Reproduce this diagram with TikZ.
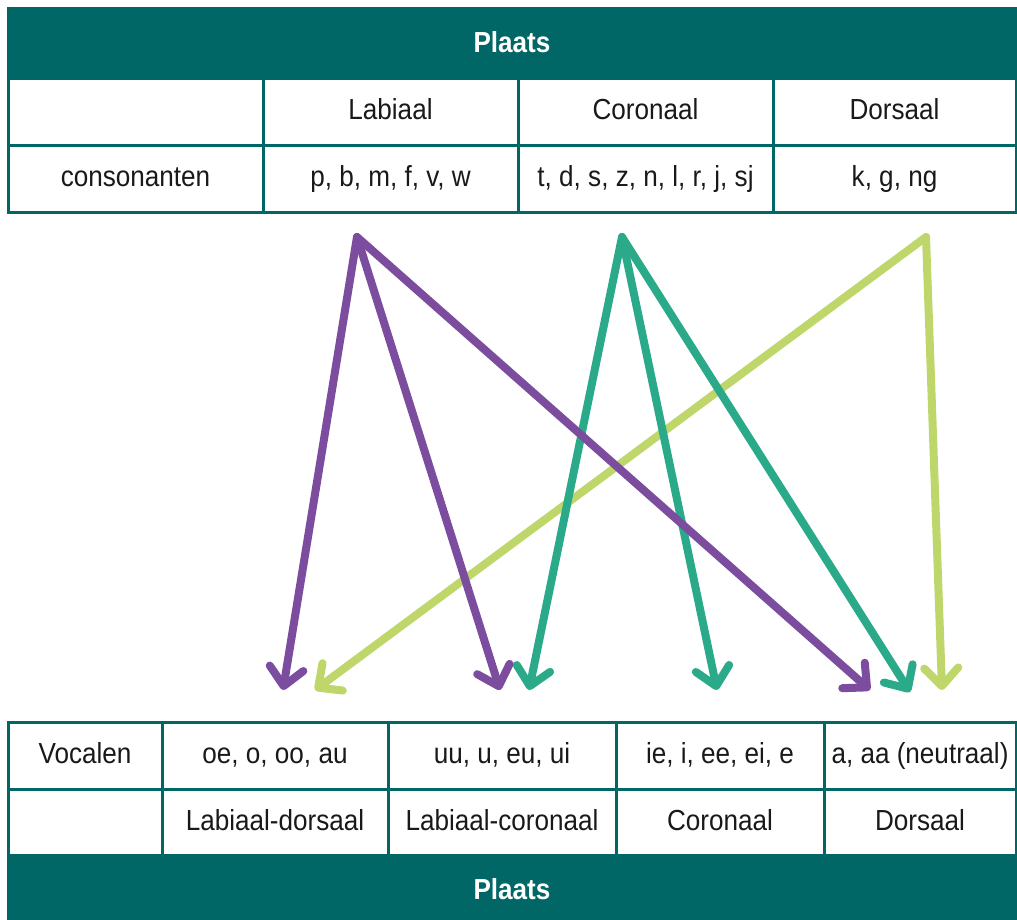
\documentclass[tikz,border=0pt]{standalone}
\usepackage{fontspec}
\setmainfont{Liberation Sans}[FakeStretch=0.9]
\usetikzlibrary{arrows.meta}
\definecolor{tablet}{RGB}{0,102,102}
\definecolor{txtc}{RGB}{25,25,25}
\definecolor{arrpurple}{RGB}{124,76,158}
\definecolor{arrteal}{RGB}{43,170,138}
\definecolor{arrlime}{RGB}{190,214,106}
\begin{document}
\begin{tikzpicture}[x=1pt,y=-1pt,
  cell/.style={draw=tablet, line width=3pt, anchor=north west, inner sep=0pt, outer sep=0pt,
    font=\fontsize{29}{33}\selectfont, text=txtc, text height=22pt, text depth=5.5pt},
  band/.style={cell, fill=tablet, text=white, font=\fontsize{29}{33}\selectfont\bfseries,
    text height=25pt},
  link/.style={line width=8pt, line cap=round, line join=round,
    -{Straight Barb[length=18pt,width=34pt,round]}},
]
\useasboundingbox (0,0) rectangle (1017,919);

% consonant table
\node[band, minimum width=1008pt, minimum height=70pt] (topband) at (8,8) {Plaats};
\node[cell, minimum width=255pt, minimum height=67pt] (h0) at (8,78) {};
\node[cell, minimum width=255pt, minimum height=67pt] (h1) at (263,78) {Labiaal};
\node[cell, minimum width=255pt, minimum height=67pt] (h2) at (518,78) {Coronaal};
\node[cell, minimum width=243pt, minimum height=67pt] (h3) at (773,78) {Dorsaal};
\node[cell, minimum width=255pt, minimum height=67pt] (c0) at (8,145) {consonanten};
\node[cell, minimum width=255pt, minimum height=67pt] (c1) at (263,145) {p, b, m, f, v, w};
\node[cell, minimum width=255pt, minimum height=67pt] (c2) at (518,145) {t, d, s, z, n, l, r, j, sj};
\node[cell, minimum width=243pt, minimum height=67pt] (c3) at (773,145) {k, g, ng};

% vowel table
\node[cell, minimum width=154pt, minimum height=67pt] (v0) at (8,722) {Vocalen};
\node[cell, minimum width=226pt, minimum height=67pt] (v1) at (162,722) {oe, o, oo, au};
\node[cell, minimum width=228pt, minimum height=67pt] (v2) at (388,722) {uu, u, eu, ui};
\node[cell, minimum width=208pt, minimum height=67pt] (v3) at (616,722) {ie, i, ee, ei, e};
\node[cell, minimum width=192pt, minimum height=67pt] (v4) at (824,722) {a, aa (neutraal)};
\node[cell, minimum width=154pt, minimum height=66pt] (p0) at (8,789) {};
\node[cell, minimum width=226pt, minimum height=66pt] (p1) at (162,789) {Labiaal-dorsaal};
\node[cell, minimum width=228pt, minimum height=66pt] (p2) at (388,789) {Labiaal-coronaal};
\node[cell, minimum width=208pt, minimum height=66pt] (p3) at (616,789) {Coronaal};
\node[cell, minimum width=192pt, minimum height=66pt] (p4) at (824,789) {Dorsaal};
\node[band, minimum width=1008pt, minimum height=70pt] (botband) at (8,855) {Plaats};

% arrow start and end points
\coordinate (sLab) at (357,237);
\coordinate (sCor) at (622,237);
\coordinate (sDor) at (926,237);
\coordinate (eLD1) at (283,690);
\coordinate (eLD2) at (315,690);
\coordinate (eLC1) at (500,690);
\coordinate (eLC2) at (529,690);
\coordinate (eCor) at (717,690);
\coordinate (eDor1) at (870,690);
\coordinate (eDor2) at (910,692);
\coordinate (eDor3) at (942,690);

\draw[link, arrlime] (sDor) -- (eLD2);
\draw[link, arrlime] (sDor) -- (eDor3);
\draw[link, arrteal] (sCor) -- (eLC2);
\draw[link, arrteal] (sCor) -- (eCor);
\draw[link, arrteal] (sCor) -- (eDor2);
\draw[link, arrpurple] (sLab) -- (eLD1);
\draw[link, arrpurple] (sLab) -- (eLC1);
\draw[link, arrpurple] (sLab) -- (eDor1);
\end{tikzpicture}
\end{document}
